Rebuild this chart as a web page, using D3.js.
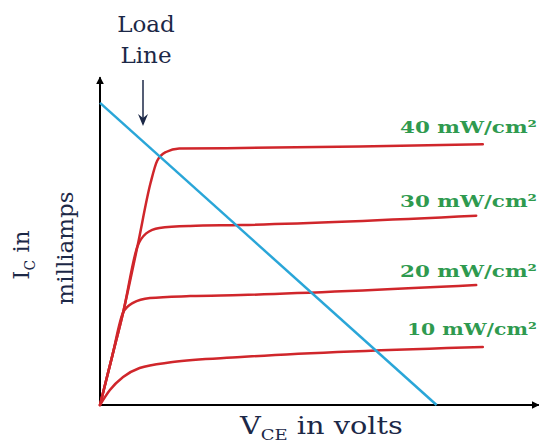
<!DOCTYPE html>
<html><head><meta charset="utf-8">
<script src="https://cdn.jsdelivr.net/npm/d3@7"></script>
<style>html,body{margin:0;padding:0;background:#fff;}svg{display:block;}</style>
</head><body>
<svg id="chart" width="539" height="443"></svg>
<script>
// Curves: [VCE (V), IC (mA)]
const curveNames = ["40 mW/cm²", "30 mW/cm²", "20 mW/cm²", "10 mW/cm²"];
const curve40 = [[0,0],[0.55,2.2],[1.05,4.2],[1.7,7.2],[2.3,10.1],[2.6,11.1],[3.0,11.5],[3.6,11.66],[6.4,11.68],[11.8,11.75],[17.4,11.85]];
const curve30 = [[0,0],[0.55,2.2],[1.05,4.2],[1.7,7.2],[2.1,7.8],[2.7,8.05],[4.1,8.14],[6.4,8.18],[17.1,8.6]];
const curve20 = [[0,0],[0.55,2.2],[1.05,4.2],[1.5,4.64],[2.27,4.86],[4.1,4.95],[6.4,5.0],[17.1,5.45]];
const curve10 = [[0,0],[0.45,0.68],[1.05,1.27],[1.8,1.68],[3.3,1.95],[6.4,2.18],[17.4,2.64]];
const loadLine = [[0,13.73],[15.3,0]];
const labelPos = [[13.64,12.36],[13.64,9.0],[13.64,5.82],[13.95,3.18]];

const svg = d3.select("#chart");
const x = d3.scaleLinear().domain([0,20]).range([100,540]);
const y = d3.scaleLinear().domain([0,15]).range([405,75]);

const red = "#d0262b", blue = "#2aa6d8", navy = "#1c2847", green = "#2f9a4f";

function fitWidth(sel, w){
  const n = sel.node(); const cw = n.getComputedTextLength();
  const tx = +sel.attr("data-x"), ty = +sel.attr("data-y");
  sel.attr("x",null).attr("y",null).attr("transform",`translate(${tx},${ty}) scale(${w/cw},1)`);
}

// axes
svg.append("defs").append("marker").attr("id","arr").attr("viewBox","0 0 10 10")
  .attr("refX",9).attr("refY",5).attr("markerWidth",4).attr("markerHeight",4).attr("orient","auto")
  .append("path").attr("d","M0,0L10,5L0,10z").attr("fill","#000");
svg.append("line").attr("x1",x(0)).attr("y1",y(0)).attr("x2",x(0)).attr("y2",y(14.9))
  .attr("stroke","#000").attr("stroke-width",2).attr("marker-end","url(#arr)");
svg.append("line").attr("x1",x(0)-1).attr("y1",y(0)).attr("x2",x(19.95)).attr("y2",y(0))
  .attr("stroke","#000").attr("stroke-width",2).attr("marker-end","url(#arr)");

const lineC = d3.line().x(d=>x(d[0])).y(d=>y(d[1])).curve(d3.curveMonotoneX);
[curve40,curve30,curve20,curve10].forEach(c=>{
  svg.append("path").attr("d",lineC(c)).attr("fill","none").attr("stroke",red)
    .attr("stroke-width",2.5).attr("stroke-linecap","round");
});
svg.append("path").attr("d",d3.line().x(d=>x(d[0])).y(d=>y(d[1]))(loadLine))
  .attr("fill","none").attr("stroke",blue).attr("stroke-width",2.5);

// curve labels
curveNames.forEach((t,i)=>{
  const s = svg.append("text").attr("data-x",x(labelPos[i][0])).attr("data-y",y(labelPos[i][1]))
    .attr("font-family","DejaVu Serif").attr("font-weight","bold").attr("font-size",17)
    .attr("fill",green).text(t);
  fitWidth(s, i===3 ? 130 : 137);
});

// load line label
const ll = svg.append("g").attr("fill",navy).attr("font-family","DejaVu Serif").attr("font-size",23).attr("text-anchor","middle");
ll.append("text").attr("x",146).attr("y",32).text("Load");
ll.append("text").attr("x",146).attr("y",63).text("Line");
svg.append("line").attr("x1",143).attr("y1",80).attr("x2",143).attr("y2",124).attr("stroke",navy).attr("stroke-width",1.5);
svg.append("path").attr("d","M138,114L143,126L148,114L143,118Z").attr("fill",navy);

// axis titles
const xt = svg.append("text").attr("data-x",240).attr("data-y",434).attr("font-family","DejaVu Serif")
  .attr("font-size",24).attr("fill",navy);
xt.append("tspan").text("V");
xt.append("tspan").attr("font-size",15).attr("dy",6).text("CE");
xt.append("tspan").attr("dy",-6).text(" in volts");
fitWidth(xt, 163);

const yt = svg.append("g").attr("font-family","DejaVu Serif").attr("font-size",23).attr("fill",navy);
const t1 = yt.append("text").attr("transform","translate(29,255) rotate(-90)").attr("text-anchor","middle");
t1.append("tspan").text("I");
t1.append("tspan").attr("font-size",14).attr("dy",6).text("C");
t1.append("tspan").attr("dy",-6).text(" in");
yt.append("text").attr("transform","translate(73,248) rotate(-90)").attr("text-anchor","middle").text("milliamps");
</script>
</body></html>
